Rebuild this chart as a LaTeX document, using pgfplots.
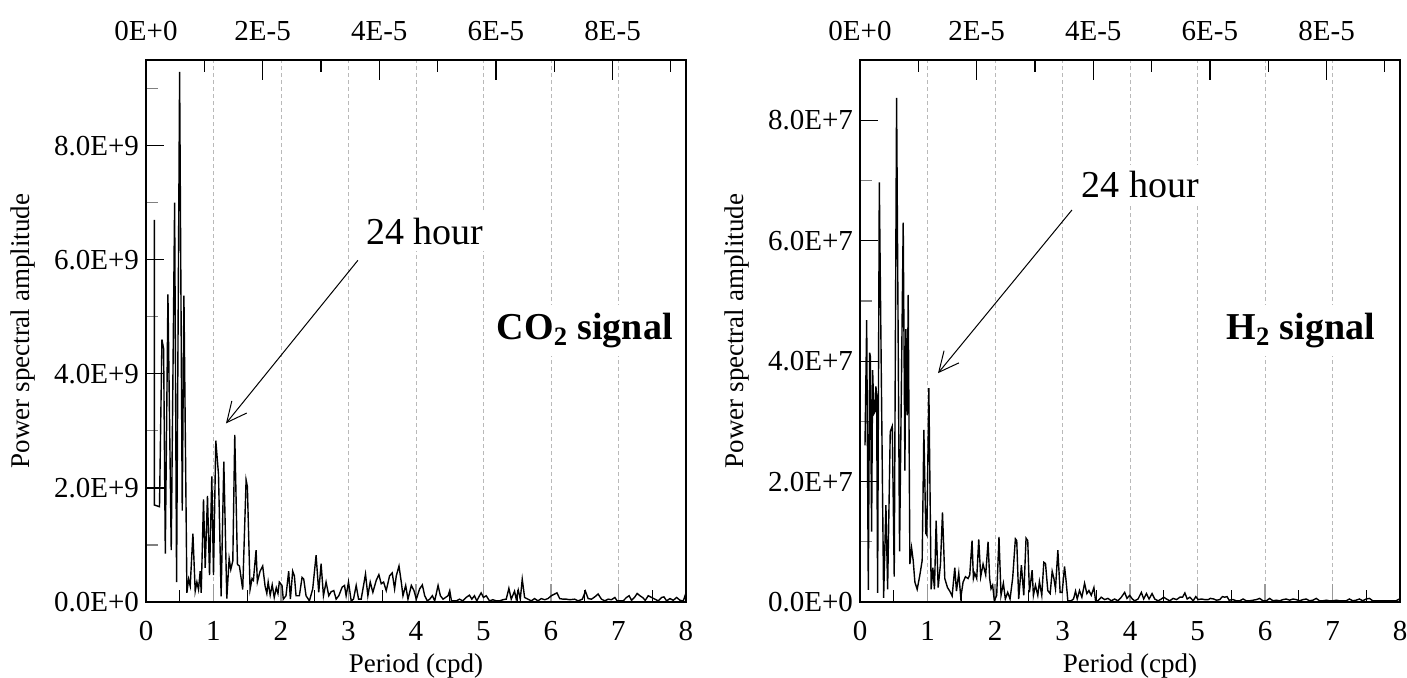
\documentclass[border=0pt]{standalone}
\usepackage{fontspec}
\setmainfont{Liberation Serif}
\usepackage{pgfplots}
\pgfplotsset{compat=1.18}
\usetikzlibrary{arrows.meta}

\pgfplotsset{
  base/.style={
    scale only axis, width=270pt, height=271pt,
    xmin=0, xmax=8, ymin=0,
    scaled y ticks=false,
    /pgf/number format/assume math mode=true,
    tick align=inside,
    xtick={0,1,2,3,4,5,6,7,8},
    xticklabels={0,1,2,3,4,5,6,7,8},
    minor xtick={0.5,1.5,2.5,3.5,4.5,5.5,6.5,7.5},
    xtick pos=bottom, ytick pos=left,
    xmajorgrids,
    major x grid style={gray!55, line width=0.45pt, dash pattern=on 2pt off 1.5pt},
    major x tick style={gray!80, line width=0.6pt},
    minor x tick style={black, line width=0.6pt},
    major tick length=9pt, minor tick length=6pt,
    tick style={line width=0.6pt},
    ticklabel style={font=\fontsize{14.5}{16}\selectfont},
    xticklabel shift=6pt,
    label style={font=\fontsize{13.5}{15}\selectfont},
    xlabel={Period (cpd)},
    ylabel={Power spectral amplitude},
    xlabel style={at={(axis description cs:0.5,-0.118)}, anchor=center},
    ylabel style={at={(axis description cs:-0.228,0.5)}, anchor=center},
    axis line style={line width=0.7pt},
  },
  topax/.style={
    scale only axis, width=270pt, height=271pt,
    xmin=0, xmax=8, ymin=0, ymax=1,
    axis x line*=top, hide y axis,
    tick align=inside,
    xtick={0,1.728,3.456,5.184,6.912},
    xticklabels={0E+0,2E-5,4E-5,6E-5,8E-5},
    minor xtick={0.864,2.592,4.32,6.048,7.776},
    major tick length=10pt, minor tick length=6pt,
    tick style={line width=0.6pt, black},
    ticklabel style={font=\fontsize{14.5}{16}\selectfont},
    xticklabel shift=6pt,
    axis line style={line width=0.7pt},
  },
}

\begin{document}
\begin{tikzpicture}
\useasboundingbox (0,0) rectangle (703.5pt,338.5pt);

% ---------------- Left: CO2 ----------------
\begin{axis}[base, at={(73pt,37.5pt)}, anchor=south west,
  ymax=9.5e9,
  ytick={0,2e9,4e9,6e9,8e9},
  yticklabels={0.0E+0,2.0E+9,4.0E+9,6.0E+9,8.0E+9},
  minor ytick={1e9,3e9,5e9,7e9,9e9},
  major y tick style={black},
]
\addplot[black, line width=0.7pt] coordinates {
(0.123,6.7e9)(0.125,1.70e9)(0.200,1.67e9)(0.236,4.60e9)(0.261,4.44e9)(0.286,0.85e9)
(0.325,5.39e9)(0.374,0.91e9)(0.424,7.00e9)(0.453,0.35e9)(0.498,9.29e9)(0.537,1.60e9)
(0.562,5.37e9)(0.606,0.16e9)(0.631,0.40e9)(0.655,0.28e9)(0.695,1.20e9)(0.729,0.19e9)
(0.754,0.35e9)(0.778,0.22e9)(0.803,0.54e9)(0.818,0.16e9)(0.852,1.80e9)(0.877,0.60e9)
(0.911,1.86e9)(0.941,0.47e9)(0.975,2.20e9)(1.000,0.47e9)(1.034,2.83e9)(1.074,2.24e9)
(1.113,0.10e9)(1.153,2.46e9)(1.197,0.06e9)(1.232,0.76e9)(1.256,0.57e9)(1.286,0.72e9)
(1.315,2.93e9)(1.355,0.66e9)(1.384,0.63e9)(1.433,0.22e9)(1.483,2.14e9)(1.502,2.02e9)
(1.542,0.22e9)(1.571,0.41e9)(1.591,0.38e9)(1.631,0.91e9)(1.650,0.35e9)(1.690,0.54e9)
(1.729,0.63e9)(1.764,0.28e9)(1.790,0.15e9)(1.810,0.35e9)(1.840,0.12e9)(1.870,0.30e9)
(1.900,0.08e9)(1.930,0.25e9)(1.955,0.15e9)(1.975,0.35e9)
(2.015,0.29e9)(2.034,0.05e9)(2.074,0.11e9)(2.114,0.54e9)(2.139,0.05e9)(2.173,0.54e9)
(2.198,0.46e9)(2.223,0.11e9)(2.272,0.11e9)(2.312,0.43e9)(2.337,0.40e9)(2.371,0.11e9)
(2.421,0.02e9)(2.470,0.23e9)(2.520,0.82e9)(2.559,0.17e9)(2.594,0.67e9)(2.629,0.11e9)
(2.668,0.35e9)(2.708,0.11e9)(2.743,0.18e9)(2.782,0.20e9)(2.817,0.05e9)(2.856,0.11e9)
(2.906,0.26e9)(2.941,0.29e9)(2.965,0.11e9)(3.000,0.35e9)(3.040,0.02e9)(3.074,0.05e9)
(3.114,0.29e9)(3.149,0.05e9)(3.188,0.05e9)(3.252,0.49e9)(3.287,0.11e9)(3.322,0.35e9)
(3.361,0.17e9)(3.411,0.38e9)(3.450,0.48e9)(3.485,0.32e9)(3.520,0.35e9)(3.559,0.20e9)
(3.609,0.46e9)(3.648,0.51e9)(3.683,0.23e9)(3.708,0.46e9)(3.748,0.63e9)(3.782,0.35e9)
(3.807,0.11e9)(3.847,0.29e9)(3.881,0.05e9)(3.931,0.29e9)(3.970,0.20e9)(4.005,0.05e9)
(4.054,0.23e9)(4.094,0.30e9)(4.129,0.11e9)(4.168,0.02e9)(4.203,0.05e9)(4.243,0.11e9)
(4.277,0.02e9)(4.327,0.29e9)(4.361,0.11e9)(4.401,0.05e9)(4.475,0.11e9)(4.500,0.20e9)
(4.525,0.02e9)(4.599,0.02e9)(4.644,0.05e9)(4.693,0.02e9)(4.743,0.08e9)(4.792,0.12e9)
(4.827,0.05e9)(4.866,0.11e9)(4.901,0.02e9)(4.941,0.11e9)(4.965,0.16e9)(5.000,0.08e9)
(5.040,0.11e9)(5.089,0.02e9)(5.139,0.04e9)(5.188,0.02e9)(5.238,0.02e9)(5.287,0.04e9)
(5.337,0.05e9)(5.376,0.24e9)(5.411,0.05e9)(5.460,0.19e9)(5.485,0.05e9)(5.515,0.21e9)
(5.545,0.05e9)(5.574,0.40e9)(5.609,0.08e9)(5.658,0.05e9)(5.708,0.02e9)(5.757,0.06e9)
(5.807,0.02e9)(5.856,0.06e9)(5.906,0.04e9)(5.955,0.06e9)(6.005,0.11e9)(6.054,0.14e9)
(6.089,0.16e9)(6.129,0.06e9)(6.178,0.05e9)(6.228,0.05e9)(6.277,0.04e9)(6.351,0.05e9)
(6.401,0.02e9)(6.465,0.05e9)(6.510,0.19e9)(6.550,0.06e9)(6.599,0.05e9)(6.649,0.09e9)
(6.698,0.14e9)(6.748,0.05e9)(6.797,0.02e9)(6.847,0.05e9)(6.896,0.04e9)(6.946,0.08e9)
(6.980,0.02e9)(7.020,0.02e9)(7.069,0.02e9)(7.119,0.08e9)(7.158,0.11e9)(7.193,0.03e9)
(7.243,0.09e9)(7.277,0.15e9)(7.317,0.11e9)(7.356,0.08e9)(7.396,0.03e9)(7.441,0.11e9)
(7.490,0.08e9)(7.540,0.05e9)(7.589,0.02e9)(7.639,0.08e9)(7.673,0.09e9)(7.713,0.02e9)
(7.762,0.06e9)(7.812,0.03e9)(7.861,0.08e9)(7.911,0.03e9)(7.960,0.02e9)(8.000,0.16e9)
};
\node[fill=white, inner sep=3pt, font=\fontsize{19}{22}\selectfont] at (axis cs:4.13,6.5e9) {24 hour};
\node[fill=white, inner sep=4pt, font=\fontsize{19}{22}\selectfont\bfseries] at (axis cs:6.5,4.76e9) {CO\textsubscript{2} signal};
\draw[-{Straight Barb[length=10pt,width=9.6pt]}, line width=0.5pt] (axis cs:3.14,5.99e9) -- (axis cs:1.185,3.13e9);
\end{axis}
\begin{axis}[topax, at={(73pt,37.5pt)}, anchor=south west]
\end{axis}

% ---------------- Right: H2 ----------------
\begin{axis}[base, at={(430pt,37.5pt)}, anchor=south west,
  ymax=9e7,
  ytick={0,2e7,4e7,6e7,8e7},
  yticklabels={0.0E+0,2.0E+7,4.0E+7,6.0E+7,8.0E+7},
  minor ytick={1e7,3e7,5e7,7e7},
  major y tick style={black},
]
\addplot[black, line width=0.7pt] coordinates {
(0.074,2.60e7)(0.099,4.68e7)(0.123,0.20e7)(0.143,4.14e7)(0.153,4.08e7)(0.172,1.17e7)
(0.187,3.85e7)(0.207,3.13e7)(0.222,3.16e7)(0.236,3.58e7)(0.246,3.43e7)(0.261,0.15e7)
(0.286,6.97e7)(0.350,0.07e7)(0.384,1.61e7)(0.409,0.21e7)(0.448,2.83e7)(0.478,2.92e7)
(0.507,0.42e7)(0.542,8.37e7)(0.586,0.84e7)(0.640,6.30e7)(0.665,2.18e7)(0.680,4.53e7)
(0.700,3.10e7)(0.714,5.10e7)(0.739,0.63e7)(0.764,0.90e7)(0.788,0.69e7)(0.813,0.33e7)
(0.847,0.21e7)(0.887,0.45e7)(0.921,0.69e7)(0.946,2.86e7)(0.975,1.14e7)(0.990,1.11e7)
(1.020,3.55e7)(1.054,0.21e7)(1.079,0.57e7)(1.103,0.21e7)(1.128,1.35e7)(1.158,0.24e7)
(1.192,0.63e7)(1.222,1.49e7)(1.256,0.39e7)(1.296,0.24e7)(1.330,0.18e7)(1.365,0.10e7)
(1.404,0.57e7)(1.429,0.18e7)(1.463,0.48e7)(1.493,0.07e7)(1.527,0.33e7)(1.562,0.42e7)
(1.601,0.39e7)(1.626,0.45e7)(1.660,1.02e7)(1.680,0.39e7)(1.700,0.48e7)(1.729,0.39e7)
(1.759,1.04e7)(1.788,0.42e7)(1.823,0.63e7)(1.862,0.45e7)(1.897,1.00e7)(1.921,0.39e7)
(1.941,0.22e7)(1.965,0.28e7)(1.990,0.02e7)(2.025,0.11e7)(2.059,1.08e7)(2.089,0.11e7)
(2.124,0.31e7)(2.153,0.05e7)(2.188,0.16e7)(2.223,0.05e7)(2.262,0.40e7)(2.302,1.05e7)
(2.322,1.02e7)(2.351,0.05e7)(2.391,0.61e7)(2.426,0.11e7)(2.460,1.06e7)(2.485,1.02e7)
(2.510,0.16e7)(2.550,0.53e7)(2.569,0.11e7)(2.599,0.28e7)(2.634,0.11e7)(2.658,0.34e7)
(2.693,0.11e7)(2.723,0.66e7)(2.748,0.64e7)(2.782,0.19e7)(2.817,0.14e7)(2.847,0.51e7)
(2.871,0.40e7)(2.896,0.22e7)(2.931,0.86e7)(2.965,0.16e7)(2.995,0.16e7)(3.030,0.59e7)
(3.054,0.34e7)(3.079,0.02e7)(3.129,0.02e7)(3.163,0.05e7)(3.193,0.18e7)(3.218,0.05e7)
(3.252,0.19e7)(3.287,0.08e7)(3.327,0.31e7)(3.361,0.14e7)(3.391,0.19e7)(3.426,0.11e7)
(3.465,0.24e7)(3.490,0.02e7)(3.525,0.02e7)(3.574,0.08e7)(3.624,0.04e7)(3.673,0.06e7)
(3.723,0.02e7)(3.772,0.05e7)(3.822,0.02e7)(3.871,0.08e7)(3.921,0.16e7)(3.955,0.06e7)
(3.995,0.11e7)(4.035,0.05e7)(4.069,0.02e7)(4.119,0.05e7)(4.168,0.16e7)(4.203,0.05e7)
(4.243,0.14e7)(4.282,0.05e7)(4.327,0.14e7)(4.366,0.05e7)(4.416,0.02e7)(4.465,0.05e7)
(4.500,0.08e7)(4.540,0.05e7)(4.589,0.02e7)(4.639,0.06e7)(4.690,0.04e7)(4.739,0.08e7)
(4.778,0.08e7)(4.813,0.15e7)(4.847,0.05e7)(4.887,0.08e7)(4.936,0.02e7)(4.975,0.09e7)
(5.010,0.04e7)(5.059,0.05e7)(5.108,0.04e7)(5.158,0.04e7)(5.192,0.06e7)(5.241,0.05e7)
(5.281,0.03e7)(5.330,0.04e7)(5.369,0.09e7)(5.404,0.08e7)(5.438,0.09e7)(5.468,0.03e7)
(5.527,0.04e7)(5.576,0.02e7)(5.626,0.02e7)(5.675,0.05e7)(5.724,0.02e7)(5.773,0.02e7)
(5.823,0.03e7)(5.872,0.04e7)(5.921,0.06e7)(5.970,0.02e7)(6.020,0.02e7)(6.069,0.06e7)
(6.118,0.02e7)(6.167,0.03e7)(6.217,0.02e7)(6.266,0.04e7)(6.315,0.05e7)(6.365,0.03e7)
(6.414,0.05e7)(6.463,0.04e7)(6.512,0.02e7)(6.562,0.04e7)(6.611,0.05e7)(6.660,0.02e7)
(6.709,0.03e7)(6.759,0.06e7)(6.808,0.02e7)(6.857,0.02e7)(6.906,0.03e7)(6.956,0.02e7)
(7.005,0.02e7)(7.054,0.03e7)(7.103,0.02e7)(7.153,0.02e7)(7.202,0.02e7)(7.251,0.05e7)
(7.300,0.02e7)(7.350,0.03e7)(7.399,0.05e7)(7.448,0.02e7)(7.498,0.05e7)(7.547,0.06e7)
(7.596,0.02e7)(7.645,0.02e7)(7.744,0.02e7)(7.842,0.02e7)(7.941,0.02e7)(7.990,0.05e7)
};
\node[fill=white, inner sep=3pt, font=\fontsize{19}{22}\selectfont] at (axis cs:4.15,6.94e7) {24 hour};
\node[fill=white, inner sep=4pt, font=\fontsize{19}{22}\selectfont\bfseries] at (axis cs:6.53,4.51e7) {H\textsubscript{2} signal};
\draw[-{Straight Barb[length=10pt,width=9.6pt]}, line width=0.5pt] (axis cs:3.14,6.51e7) -- (axis cs:1.156,3.80e7);
\end{axis}
\begin{axis}[topax, at={(430pt,37.5pt)}, anchor=south west]
\end{axis}
\end{tikzpicture}
\end{document}
